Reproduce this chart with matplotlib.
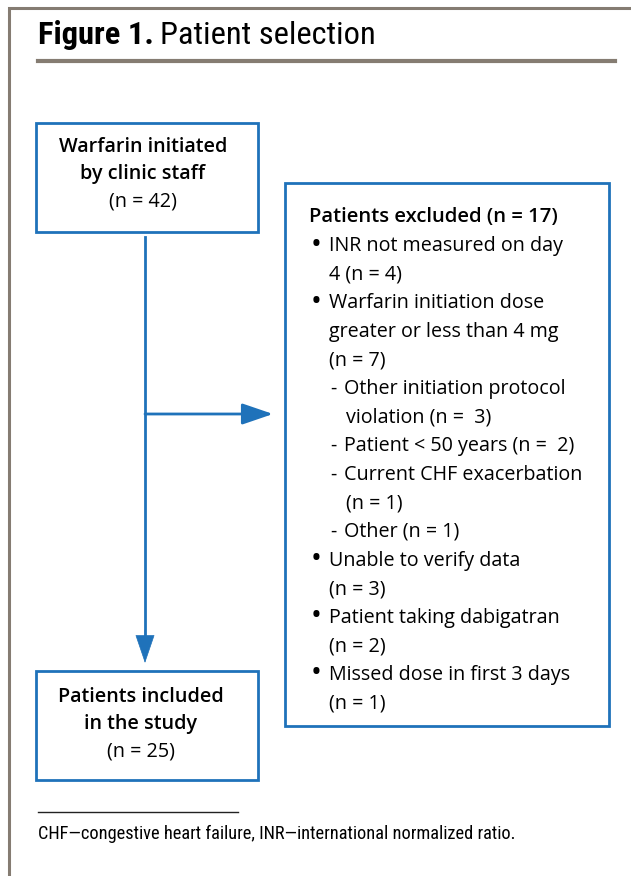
import matplotlib.pyplot as plt
from matplotlib import font_manager
from matplotlib.patches import Rectangle, FancyArrowPatch

BLUE = "#1f72ba"
GRAY = "#857c72"

TITLE_BOLD = "Figure 1."
TITLE_REST = "Patient selection"
TOP_BOX = ["Warfarin initiated", "by clinic staff", "(n = 42)"]
BOTTOM_BOX = ["Patients included", "in the study", "(n = 25)"]
EXCLUDED_HEAD = "Patients excluded (n = 17)"
# (kind, text): "b" bullet, "c" bullet continuation, "d" dash item, "e" dash continuation
EXCLUDED = [
    ("b", "INR not measured on day"),
    ("c", "4 (n = 4)"),
    ("b", "Warfarin initiation dose"),
    ("c", "greater or less than 4 mg"),
    ("c", "(n = 7)"),
    ("d", "Other initiation protocol"),
    ("e", "violation (n =  3)"),
    ("d", "Patient < 50 years (n =  2)"),
    ("d", "Current CHF exacerbation"),
    ("e", "(n = 1)"),
    ("d", "Other (n = 1)"),
    ("b", "Unable to verify data"),
    ("c", "(n = 3)"),
    ("b", "Patient taking dabigatran"),
    ("c", "(n = 2)"),
    ("b", "Missed dose in first 3 days"),
    ("c", "(n = 1)"),
]
FOOTNOTE = "CHF\u2014congestive heart failure, INR\u2014international normalized ratio."

BODY = ["Open Sans", "DejaVu Sans"]

# pick a narrow face for title / footnote if one is installed
names = {f.name for f in font_manager.fontManager.ttflist}
condensed_dejavu = any(f.name == "DejaVu Sans" and f.stretch in ("condensed", "semi-condensed", 300)
                       for f in font_manager.fontManager.ttflist)
NARROW_STRETCH = "normal"
NARROW = ["Roboto", "DejaVu Sans"]
NARROW_SCALE = 0.86
for cand in ["Liberation Sans Narrow", "Roboto Condensed", "Open Sans Condensed", "DejaVu Sans Condensed"]:
    if cand in names:
        NARROW = [cand, "DejaVu Sans"]
        NARROW_SCALE = 1.0
        break
else:
    if condensed_dejavu:
        NARROW = ["DejaVu Sans"]
        NARROW_STRETCH = "condensed"
        NARROW_SCALE = 0.9

fig = plt.figure(figsize=(6.31, 8.76), dpi=100)
ax = fig.add_axes([0, 0, 1, 1])
ax.set_xlim(0, 631)
ax.set_ylim(876, 0)
ax.axis("off")

# outer frame and title rule
ax.plot([9, 9, 631], [876, 8, 8], color=GRAY, lw=2.2, solid_joinstyle="miter")
ax.plot([38, 615], [61, 61], color=GRAY, lw=3)

tsize = 23.4 * NARROW_SCALE
t = ax.text(38, 35, TITLE_BOLD, fontsize=tsize, fontweight="bold", family=NARROW,
            fontstretch=NARROW_STRETCH, va="center", ha="left")
fig.canvas.draw()
bb = t.get_window_extent()
x_end = ax.transData.inverted().transform((bb.x1, bb.y0))[0]
ax.text(x_end + 6, 35, TITLE_REST, fontsize=tsize, family=NARROW,
        fontstretch=NARROW_STRETCH, va="center", ha="left")


def box(x0, y0, x1, y1):
    ax.add_patch(Rectangle((x0, y0), x1 - x0, y1 - y0, fill=False,
                           edgecolor=BLUE, lw=2))


box(36, 123, 258, 232)
box(36, 671, 258, 780)
box(285, 183, 609, 726)

FS = 14.2
for i, line in enumerate(TOP_BOX):
    ax.text(143, 147 + i * 27.5, line, fontsize=FS, family=BODY, ha="center",
            va="center", fontweight="semibold" if i < 2 else "normal")
for i, line in enumerate(BOTTOM_BOX):
    ax.text(141, 697 + i * 27.5, line, fontsize=FS, family=BODY, ha="center",
            va="center", fontweight="semibold" if i < 2 else "normal")

# connectors
arrow = "-|>,head_length=19,head_width=6.5"
ax.plot([145, 145], [237, 645], color=BLUE, lw=2)
ax.add_patch(FancyArrowPatch((145, 630), (145, 663), arrowstyle=arrow,
                             color=BLUE, lw=0.5, mutation_scale=1, shrinkA=0, shrinkB=0))
ax.add_patch(FancyArrowPatch((145, 414), (273, 414), arrowstyle=arrow,
                             color=BLUE, lw=2, mutation_scale=1, shrinkA=0, shrinkB=0))

ax.text(309, 217, EXCLUDED_HEAD, fontsize=14.6, family=BODY, fontweight="semibold",
        va="center", ha="left")
step = 28.6
for i, (kind, line) in enumerate(EXCLUDED):
    y = 246 + i * step
    if kind == "b":
        ax.text(316, y - 1, "\u2022", fontsize=21, family=BODY, va="center", ha="center")
        ax.text(329, y, line, fontsize=FS, family=BODY, va="center", ha="left")
    elif kind == "c":
        ax.text(329, y, line, fontsize=FS, family=BODY, va="center", ha="left")
    elif kind == "d":
        ax.text(330, y, "-", fontsize=FS, family=BODY, va="center", ha="left")
        ax.text(344, y, line, fontsize=FS, family=BODY, va="center", ha="left")
    else:
        ax.text(346, y, line, fontsize=FS, family=BODY, va="center", ha="left")

# footnote
ax.plot([38, 238], [812, 812], color="#222222", lw=1)
ax.text(38, 834, FOOTNOTE, fontsize=13.2 * NARROW_SCALE,
        family=NARROW, fontstretch=NARROW_STRETCH, va="center", ha="left")

fig.savefig("out.png", dpi=100)
